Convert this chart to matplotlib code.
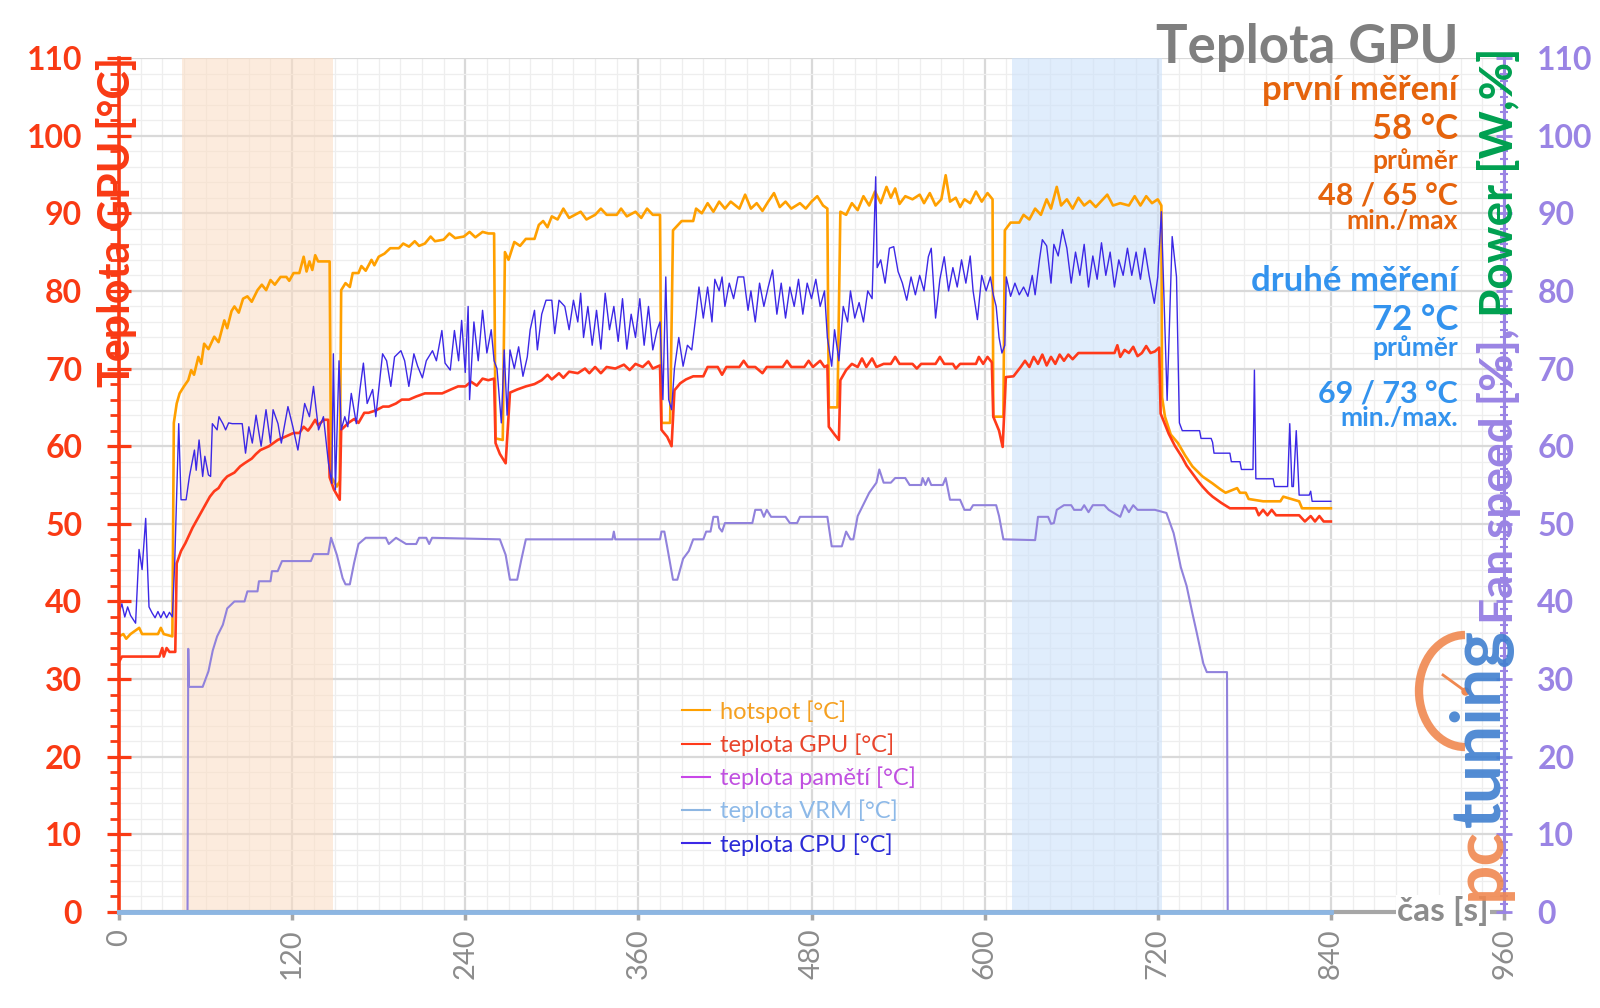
import matplotlib
matplotlib.use("Agg")
import matplotlib.pyplot as plt
from matplotlib.ticker import MultipleLocator
from matplotlib.patches import Arc

plt.rcParams['font.family'] = ['Lato', 'DejaVu Sans']

# hotspot [°C]
hot_t = [0, 3, 5, 8, 14, 16, 27, 29, 31, 37, 38, 40, 42, 45, 48, 50, 52, 55, 57, 59, 62, 66, 69, 73, 75, 78, 80, 83, 86, 89,
         92, 96, 99, 102, 105, 108, 112, 116, 118, 121, 125, 128, 130, 132, 134, 136, 138, 146, 147, 151, 153, 154, 157, 160,
         162, 166, 168, 171, 175, 177, 180, 184, 188, 194, 197, 201, 205, 208, 212, 216, 219, 225, 229, 233, 239, 243, 247,
         252, 256, 260, 261, 266, 267.5, 270, 274, 278, 282, 288, 291, 294, 297, 300, 304, 308, 312, 316, 320, 324, 330, 334,
         338, 345, 348, 352, 358, 362, 366, 370, 375, 376, 382, 384, 390, 398, 400, 404, 408, 412, 416, 420, 424, 430, 434,
         438, 442, 446, 450, 454, 458, 462, 466, 472, 476, 480, 484, 488, 491, 492, 498, 500, 504, 508, 512, 516, 520, 524,
         528, 532, 535, 538, 541, 545, 550, 555, 558, 562, 566, 570, 573, 576, 580, 583, 586, 590, 594, 598, 602, 605.5, 606,
         613, 614, 618, 624, 627, 631, 635, 639, 643, 646, 650, 653, 657, 661, 665, 669, 673, 677, 681, 685, 689, 694, 700,
         704, 708, 712, 716, 720, 722.5, 723, 725, 729, 734, 739, 744, 751, 758, 763, 767, 775, 777, 781, 783, 793, 805, 807,
         818, 820, 840]
hot_v = [35.5, 35.8, 35.2, 35.8, 36.6, 35.8, 35.8, 36.6, 35.8, 35.5, 63, 65.5, 66.8, 67.7, 68.5, 69.8, 69.2, 71.5, 70.6,
         73.2, 72.5, 74.1, 73.4, 76.2, 75.2, 77.4, 78, 77.2, 79, 79.3, 78.6, 80.1, 80.8, 80.1, 81.4, 80.8, 81.8, 81.8, 81.3,
         82.3, 82.3, 84.4, 82.5, 83.8, 82.7, 84.6, 83.8, 83.8, 56.1, 54.8, 55.5, 80.1, 81, 80.5, 82.3, 82.3, 83.2, 82.6, 84,
         83.3, 84.4, 84.8, 85.5, 85.5, 86.1, 85.7, 86.4, 85.8, 86.1, 87, 86.4, 86.6, 87.4, 86.8, 87, 87.6, 86.9, 87.6, 87.4,
         87.4, 61, 60.8, 85, 84, 86.3, 85.8, 86.7, 86.7, 88.5, 89, 88.2, 89.6, 89.2, 90.6, 89.4, 89.8, 90.2, 89.2, 89.8,
         90.6, 89.8, 89.8, 90.6, 89.6, 90.2, 89.4, 90.6, 89.8, 89.8, 63, 63, 87.8, 89, 89, 90.6, 90, 91.3, 90.2, 91.5, 90.6,
         91.5, 90.6, 92.4, 90.6, 91.3, 90.3, 91.5, 92.6, 90.8, 91.5, 90.6, 91.3, 90.6, 91.5, 92.2, 91, 90.6, 65, 65, 90.2,
         89.8, 91.3, 90.4, 92.2, 91, 92.8, 91.3, 93.4, 92, 93.2, 91.2, 92.2, 91.8, 92.4, 91.3, 92.6, 91, 91.8, 94.9, 91.5,
         92, 90.8, 91.8, 91.3, 92.8, 91.5, 92.6, 91.8, 63.8, 63.8, 87.8, 88.8, 88.8, 89.8, 89.2, 90.6, 89.8, 91.8, 90.6,
         93.4, 91, 91.8, 90.6, 92, 91, 91.6, 90.8, 91.6, 92.4, 91, 91.3, 91, 92.2, 91, 92.2, 91.3, 91.8, 91, 66.3, 63.8,
         61.5, 60.4, 58.8, 57.4, 56.1, 55.2, 54.5, 54, 54.6, 54, 54, 53.2, 52.9, 52.9, 53.5, 52.9, 52, 52]

# teplota GPU [°C]
gpu_t = [0, 2, 28, 30, 31, 33, 35, 39, 40, 43, 46, 48, 51, 54, 57, 60, 63, 66, 69, 72, 75, 80, 84, 87, 92, 95, 98, 104, 110,
         115, 121, 125, 128, 131, 133, 136, 138, 142, 145, 146, 149, 153, 154, 159, 163, 166, 170, 173, 178, 183, 187, 192,
         196, 201, 206, 212, 218, 224, 230, 235, 240, 244, 248, 252, 256, 260, 261, 264, 268, 271, 276, 282, 288, 293, 297,
         300, 305, 308, 312, 318, 323, 326, 330, 334, 338, 344, 350, 354, 358, 363, 367, 370, 375, 376, 380, 383, 385, 389,
         393, 398, 405, 408, 415, 418, 421, 430, 433, 436, 441, 446, 449, 460, 463, 466, 475, 478, 481, 486, 489, 491, 492,
         496, 499, 500, 504, 508, 512, 515, 518, 522, 525, 530, 535, 538, 541, 550, 553, 556, 566, 569, 572, 578, 580, 583,
         594, 596, 599, 602, 605, 606, 610, 612.5, 614.7, 620, 625, 628, 631, 634, 637, 640, 643, 646, 649, 652, 655, 658,
         661, 665, 690, 692, 694, 697, 700, 703, 706, 709, 712, 715, 718, 721, 722, 727.6, 732, 736.8, 740, 744, 748, 751,
         755, 758, 764, 770, 788, 790, 793, 796, 799, 802, 818, 822, 826, 829, 832, 835, 840]
gpu_v = [32.2, 32.9, 32.9, 34, 32.9, 34, 33.5, 33.5, 44.9, 46.5, 47.5, 48.3, 49.5, 50.5, 51.5, 52.5, 53.5, 54.2, 54.6, 55.5,
         56.1, 56.6, 57.4, 57.8, 58.4, 59, 59.5, 60, 60.8, 61.2, 61.7, 61.7, 62.5, 62, 62.5, 63.4, 62.7, 63.4, 63.4, 56,
         54.4, 53.1, 62.1, 63, 63.5, 63, 64.3, 64.3, 64.6, 65.1, 65.1, 65.5, 66, 66, 66.4, 66.8, 66.8, 66.8, 67.3, 67.7,
         67.7, 68.3, 67.8, 68.7, 68.5, 68.7, 60.4, 59, 57.8, 66.9, 67.3, 67.7, 68, 68.5, 69.2, 68.6, 69.4, 68.8, 69.6, 69.4,
         70, 69.4, 70.2, 69.4, 70.2, 70, 70.5, 69.8, 70.6, 70.2, 70.9, 70, 70.4, 62.1, 61.2, 60, 67.2, 68.1, 68.6, 69, 69,
         70.2, 70.2, 69.2, 70.2, 70.2, 71, 70.2, 70.2, 69.4, 70.2, 70.2, 71, 70.2, 70.2, 71, 70.2, 71, 70.2, 70.4, 62.5,
         61.5, 60.8, 68.5, 69.8, 70.6, 70.2, 71.3, 70.2, 71.3, 70.2, 70.6, 70.6, 71.5, 70.6, 70.6, 70, 70.6, 70.6, 71.5,
         70.6, 70.6, 70, 70.6, 70.6, 71.5, 70.6, 71.5, 70.8, 63.8, 62, 59.9, 68.9, 69, 70.2, 71, 70.2, 71.5, 70.6, 71.8,
         70.4, 71.5, 70.6, 71.8, 71, 71.8, 71.2, 72, 72, 73, 71.5, 72.4, 72, 72.8, 71.6, 72, 72.9, 72, 72.2, 72.7, 64.2,
         61.6, 60, 58.6, 57.5, 56.5, 55.5, 54.8, 54, 53.5, 52.7, 52, 52, 51.1, 51.8, 51.1, 51.8, 51.1, 51.1, 50.3, 51, 50.3,
         51, 50.3, 50.3]

# teplota CPU [°C]
cpu_t = [0, 2, 4, 6, 8, 11.5, 13.9, 16, 18.5, 20.8, 23, 25, 27, 29, 31, 33, 35, 37, 38.6, 41.4, 43, 46.5, 48.8, 52.3, 53.5,
         55.5, 58, 59.5, 62, 63.5, 64.7, 68, 69.3, 72, 73.9, 76, 78.5, 85.4, 87.7, 90, 92.4, 95, 98.5, 101.9, 105, 106.8,
         110.2, 112.5, 117.1, 120.5, 124, 128.7, 132, 134.8, 138.3, 141.7, 145.2, 147.5, 148.6, 150, 152.5, 154, 156.5,
         158.6, 161, 164.5, 167, 169.4, 172, 175.8, 178, 182.7, 185.5, 188.4, 191, 195.4, 198, 200.9, 204.4, 207, 210.3,
         213, 217.3, 220, 223.8, 226, 229.6, 232.5, 235.4, 237.5, 240, 242, 243, 246, 249, 252, 255, 258, 260, 262, 265,
         267, 269, 271, 274, 277, 280, 283, 285, 288, 290, 293, 296, 300, 302, 305, 309, 312, 315, 318, 320, 322, 325, 328,
         331, 334, 337, 340, 343, 346, 349, 352, 355, 358, 361, 364, 367, 370, 373, 375, 377, 379, 381, 383, 385, 388, 391,
         394, 397, 400, 402, 405, 408, 411, 413, 416, 418, 420, 423, 426, 429, 433, 436, 438, 441, 444, 447, 450, 453, 456,
         459, 462, 465, 468, 471, 474, 477, 480, 483, 486, 489, 491, 494, 496, 499, 502, 505, 507, 510, 513, 516, 519, 522,
         524.5, 525.5, 528, 531, 534, 537, 540, 543, 546, 549, 552, 555, 558, 561, 563, 566, 569, 572, 575, 578, 581, 584,
         587, 590, 592, 595, 598, 601, 604, 606, 608, 610, 612, 614, 615, 618, 621, 624, 627, 630, 633, 635, 638, 640, 643,
         646, 648, 651, 654, 657, 660, 663, 666, 669, 672, 675, 678, 681, 684, 687, 690, 693, 696, 699, 702, 705, 708, 711,
         714, 717.6, 720, 722.5, 726.5, 730, 733, 735, 737, 749, 750, 757, 758, 759, 770, 771, 777, 778, 786, 787, 788, 800,
         801, 810, 811.5, 813, 814, 816, 818, 825, 826, 827, 840]
cpu_v = [38.5, 39.7, 38, 39.3, 38.2, 37.2, 46.7, 44.1, 50.7, 39.3, 38.5, 37.9, 38.7, 37.9, 38.7, 37.9, 38.6, 38, 44.9, 62.9,
         53.1, 53.1, 56.1, 59.5, 56.9, 60.8, 56.1, 58.7, 56.3, 56.1, 62.9, 62.1, 63.8, 62.9, 62.1, 63, 62.9, 62.9, 59.1,
         62.5, 60.4, 64, 60, 64.7, 60.4, 64.7, 62.9, 60.4, 65.1, 62.5, 59.5, 65.5, 63.8, 67.7, 62.1, 63.8, 57.8, 55.2, 71.9,
         54.4, 71, 62.1, 63.8, 62.5, 66.8, 62.9, 67.3, 70.7, 65.5, 67.3, 63.8, 71.9, 71, 67.7, 71.5, 72.3, 71, 67.7, 71.9,
         70.3, 68.8, 71, 72.3, 71, 74.9, 70.7, 69.8, 74.9, 71, 76.2, 69.5, 78, 66, 76, 71, 77.5, 72, 75, 71, 70, 63, 72.4,
         64, 72.4, 70, 72.8, 69, 71.5, 75, 77.5, 72.4, 77, 78.8, 78.8, 74.5, 78.8, 78, 75, 78.8, 76, 79.7, 74, 78, 73, 77.5,
         72.5, 79.7, 75, 78, 73.5, 79, 72.5, 77, 74, 79, 73, 78, 72.4, 75, 76, 66, 81.8, 66, 64.7, 70, 74, 70.3, 73, 72.4,
         77, 80.5, 76.5, 80.5, 76, 81.5, 80, 81.8, 78, 81, 79, 81.8, 81.8, 77.5, 80, 76, 81, 78, 80.5, 82.7, 77, 81, 76.5,
         80.5, 78, 81.5, 77, 81, 79, 81.5, 78, 80, 74, 70.3, 75, 71, 78, 76, 80, 76.5, 78.5, 76, 80, 79, 94.7, 83, 84, 81,
         85.5, 85.7, 82.5, 81, 78.8, 81.8, 79.5, 82, 80, 84.4, 85.5, 76.5, 81.5, 84.4, 80, 83, 80.5, 84, 81, 84.5, 80, 76.3,
         82, 80, 81.8, 79.5, 78, 74, 72, 73, 81.8, 79.3, 81, 79.5, 80.5, 79.3, 82, 79.5, 84, 86.6, 85.8, 81, 86, 84.5, 87.9,
         85.5, 81, 85, 82, 86, 80.5, 84.5, 81.5, 86.2, 82, 85, 80.5, 84, 82, 85.5, 82, 85, 81.5, 85.5, 82, 78.4, 81.8, 90.2,
         65.9, 87, 81.8, 63, 62, 62, 61, 61, 60.5, 59.1, 59.1, 58, 58, 57, 57, 69.8, 55.8, 55.8, 54.8, 54.8, 62.9, 54.8,
         54.8, 62, 53.7, 53.7, 54.2, 52.9, 52.9]

# fan speed [%]
fan_t = [0, 47.5, 48, 48.5, 52, 58, 62, 65, 68, 72, 75, 80, 87, 89, 96, 97, 105, 106, 110, 113, 133, 135, 145, 147, 151,
         155, 157, 160, 163, 166, 171, 185, 187, 192, 199, 206, 208, 213, 215, 217, 264, 268, 271, 276, 279, 282, 342,
         343, 344, 375, 376, 378, 380, 384, 387, 391, 395, 398, 405, 407, 410, 412, 415, 416, 418, 420, 439, 441, 445, 447,
         449, 452, 462, 465, 470, 472, 491, 494, 501, 504, 507, 509, 512, 520, 525, 527, 530, 535, 538, 545, 548, 556, 557,
         559, 561, 563, 571, 573, 576, 583, 586, 590, 592, 608, 610, 613, 635, 637, 644, 646, 648, 650, 655, 660, 662, 667,
         669, 672, 675, 683, 686, 694, 697, 700, 703, 706, 718, 726, 731, 733, 736, 740, 744, 747, 751.6, 754, 768, 768.5]
fan_v = [0, 0, 33.9, 29, 29, 29, 31, 33.7, 35.5, 37, 39.1, 40, 40, 41.3, 41.3, 42.6, 42.6, 43.9, 43.9, 45.2, 45.2, 46.1,
         46.1, 48.2, 46, 43, 42.2, 42.2, 45, 47.4, 48.2, 48.2, 47.4, 48.2, 47.4, 47.4, 48.2, 48.2, 47.4, 48.2, 48, 46,
         42.8, 42.8, 45.5, 48, 48, 49, 48, 48, 49, 49, 47, 42.8, 42.8, 45.5, 46.5, 48, 48, 49, 49, 50.9, 50.9, 49.5, 49,
         50.1, 50.1, 51.8, 51.8, 50.9, 51.8, 50.9, 50.9, 50.1, 50.1, 50.9, 50.9, 47.1, 47.1, 49, 48, 48, 51, 54, 55.3, 57,
         55.3, 55.3, 55.9, 55.9, 55, 55, 55.9, 55, 55.9, 55, 55, 55.9, 53.1, 53.1, 51.8, 51.8, 52.4, 52.4, 51, 48, 47.9,
         50.9, 50.9, 50, 50.1, 51.8, 52.4, 52.4, 51.8, 51.8, 52.4, 51.5, 52.4, 52.4, 51.8, 50.9, 52.4, 51.5, 52.4, 51.8,
         51.8, 51.4, 48.8, 47.1, 44.4, 42, 38.5, 36, 32, 30.9, 30.9, 0]

# teplota VRM [°C] (flat on zero)
vrm_t = [0, 840]
vrm_v = [0, 0]

# teplota pamětí [°C] (no data in the run)
mem_t = []
mem_v = []

x_ticks = [0, 120, 240, 360, 480, 600, 720, 840, 960]
band1 = (44, 148)
band2 = (619, 723)

RED = '#F93A14'
PURPLE = '#9A84E4'
GRAY = '#8C8C8C'

fig = plt.figure(figsize=(16, 10.08), dpi=100)
ax = fig.add_axes([119 / 1600, 96 / 1008, 1385 / 1600, 854 / 1008])
ax.set_xlim(0, 960)
ax.set_ylim(0, 110)

ax.xaxis.set_major_locator(MultipleLocator(120))
ax.xaxis.set_minor_locator(MultipleLocator(15))
ax.yaxis.set_major_locator(MultipleLocator(10))
ax.yaxis.set_minor_locator(MultipleLocator(2))
ax.set_axisbelow(True)
ax.grid(which='major', color='#D9D9D9', lw=1.6)
ax.grid(which='minor', color='#EEEEEE', lw=0.9)

ax.axvspan(*band1, color='#FBDCC2', alpha=0.55, lw=0, zorder=1)
ax.axvspan(*band2, color='#CCE1FA', alpha=0.6, lw=0, zorder=1)

ax.plot(fan_t, fan_v, color='#9182DC', lw=1.5, zorder=2.1)
ax.plot(hot_t, hot_v, color='#FFA000', lw=1.9, zorder=2.2, label='hotspot [°C]')
ax.plot(gpu_t, gpu_v, color='#FF3A1A', lw=1.9, zorder=2.3, label='teplota GPU [°C]')
ax.plot(mem_t, mem_v, color='#C846E8', lw=1.5, label='teplota pamětí [°C]')
ax.plot(vrm_t, vrm_v, color='#8DB6E2', lw=3.5, zorder=3, clip_on=False, label='teplota VRM [°C]')
ax.plot(cpu_t, cpu_v, color='#3C28E6', lw=1.0, zorder=2.4, label='teplota CPU [°C]')

for s in ['top', 'right']:
    ax.spines[s].set_visible(False)
ax.spines['left'].set_color(RED)
ax.spines['left'].set_linewidth(2.6)
ax.spines['bottom'].set_color('#A6A6A6')
ax.spines['bottom'].set_linewidth(3)

ax.tick_params(axis='y', which='major', direction='inout', length=17, width=2.3, color=RED,
               labelcolor=RED, labelsize=23, pad=18)
ax.tick_params(axis='y', which='minor', direction='out', length=6.5, width=2, color=RED)
for lab in ax.get_yticklabels():
    lab.set_fontweight('bold')
ax.set_xticks(x_ticks)
ax.tick_params(axis='x', which='major', direction='out', length=6, width=2.5, color='#A6A6A6',
               labelcolor=GRAY, labelsize=21, labelrotation=90, pad=6)
ax.tick_params(axis='x', which='minor', length=0)

ax2 = ax.twinx()
ax2.set_ylim(0, 110)
ax2.yaxis.set_major_locator(MultipleLocator(10))
ax2.yaxis.set_minor_locator(MultipleLocator(1))
for s in ['top', 'left', 'bottom']:
    ax2.spines[s].set_visible(False)
ax2.spines['right'].set_color(PURPLE)
ax2.spines['right'].set_linewidth(2.2)
ax2.tick_params(axis='y', which='major', direction='inout', length=12, width=2, color=PURPLE,
                labelcolor=PURPLE, labelsize=23, pad=18)
ax2.tick_params(axis='y', which='minor', direction='inout', length=6, width=1.5, color=PURPLE)
for lab in ax2.get_yticklabels():
    lab.set_fontweight('bold')

leg = ax.legend(loc='upper left', bbox_to_anchor=((682 - 119) / 1385, (912 - 700) / 854), frameon=False,
                fontsize=17, handlelength=1.2, handletextpad=0.4, labelspacing=0.45, borderpad=0, borderaxespad=0)
for txt, c in zip(leg.get_texts(), ['#F5A020', '#E8452C', '#C050E0', '#8DB9E8', '#2B2BD6']):
    txt.set_color(c)
for h in leg.get_lines():
    h.set_linewidth(1.5)

# overlay in pixel coordinates for titles, labels and logo
deco = fig.add_axes([0, 0, 1, 1], zorder=5)
deco.set_xlim(0, 1600)
deco.set_ylim(1008, 0)
deco.axis('off')
deco.patch.set_visible(False)

deco.text(1458, 63, 'Teplota GPU', ha='right', va='baseline', fontsize=38, fontweight='bold', color='#7F7F7F')
ORANGE_T = '#E5630C'
BLUE_T = '#3393EE'
notes = [
    ('první měření', 100, 25, ORANGE_T), ('58 °C', 139, 25, ORANGE_T), ('průměr', 169, 19, ORANGE_T),
    ('48 / 65 °C', 205, 22, ORANGE_T), ('min./max', 229, 19, ORANGE_T),
    ('druhé měření', 291, 25, BLUE_T), ('72 °C', 330, 25, BLUE_T), ('průměr', 356, 19, BLUE_T),
    ('69 / 73 °C', 403, 22, BLUE_T), ('min./max.', 426, 19, BLUE_T),
]
for txt, yb, fs, c in notes:
    deco.text(1458, yb, txt, ha='right', va='baseline', fontsize=fs, fontweight='bold', color=c)

deco.text(130, 57, 'Teplota GPU [°C]', rotation=90, rotation_mode='anchor', ha='right', va='baseline',
          fontsize=31, fontweight='bold', color=RED)

deco.text(1489, 921, 'čas [s]', ha='right', va='baseline', fontsize=24, fontweight='bold', color=GRAY,
          bbox=dict(facecolor='white', edgecolor='none', pad=1))

fig.canvas.draw()
r = fig.canvas.get_renderer()

t_fan = deco.text(1513, 624, 'Fan speed [%], ', rotation=90, rotation_mode='anchor', ha='left', va='baseline',
                  fontsize=33, fontweight='bold', color=PURPLE)
bb = t_fan.get_window_extent(r)
deco.text(1513, 1008 - bb.y1, 'Power [W,%]', rotation=90, rotation_mode='anchor', ha='left', va='baseline',
          fontsize=33, fontweight='bold', color='#00A050')

# pctuning logo (approximation)
LOGO_O = '#F08850'
LOGO_B = '#3F7FCF'
t_pc = deco.text(1500, 900, 'pc', rotation=90, rotation_mode='anchor', ha='left', va='baseline',
                 fontsize=50, fontweight='bold', color=LOGO_O, alpha=0.9)
bb = t_pc.get_window_extent(r)
deco.text(1500, 1008 - bb.y1, 'tuning', rotation=90, rotation_mode='anchor', ha='left', va='baseline',
          fontsize=50, fontweight='bold', color=LOGO_B, alpha=0.9)
deco.add_patch(Arc((1465, 691), 92, 112, theta1=90, theta2=270, lw=6, color=LOGO_O, alpha=0.9))
deco.plot([1465, 1443], [691, 675], color=LOGO_O, lw=2)
deco.plot([1465], [691], 'o', color=LOGO_O, ms=5)

fig.savefig('out.png', dpi=100)
